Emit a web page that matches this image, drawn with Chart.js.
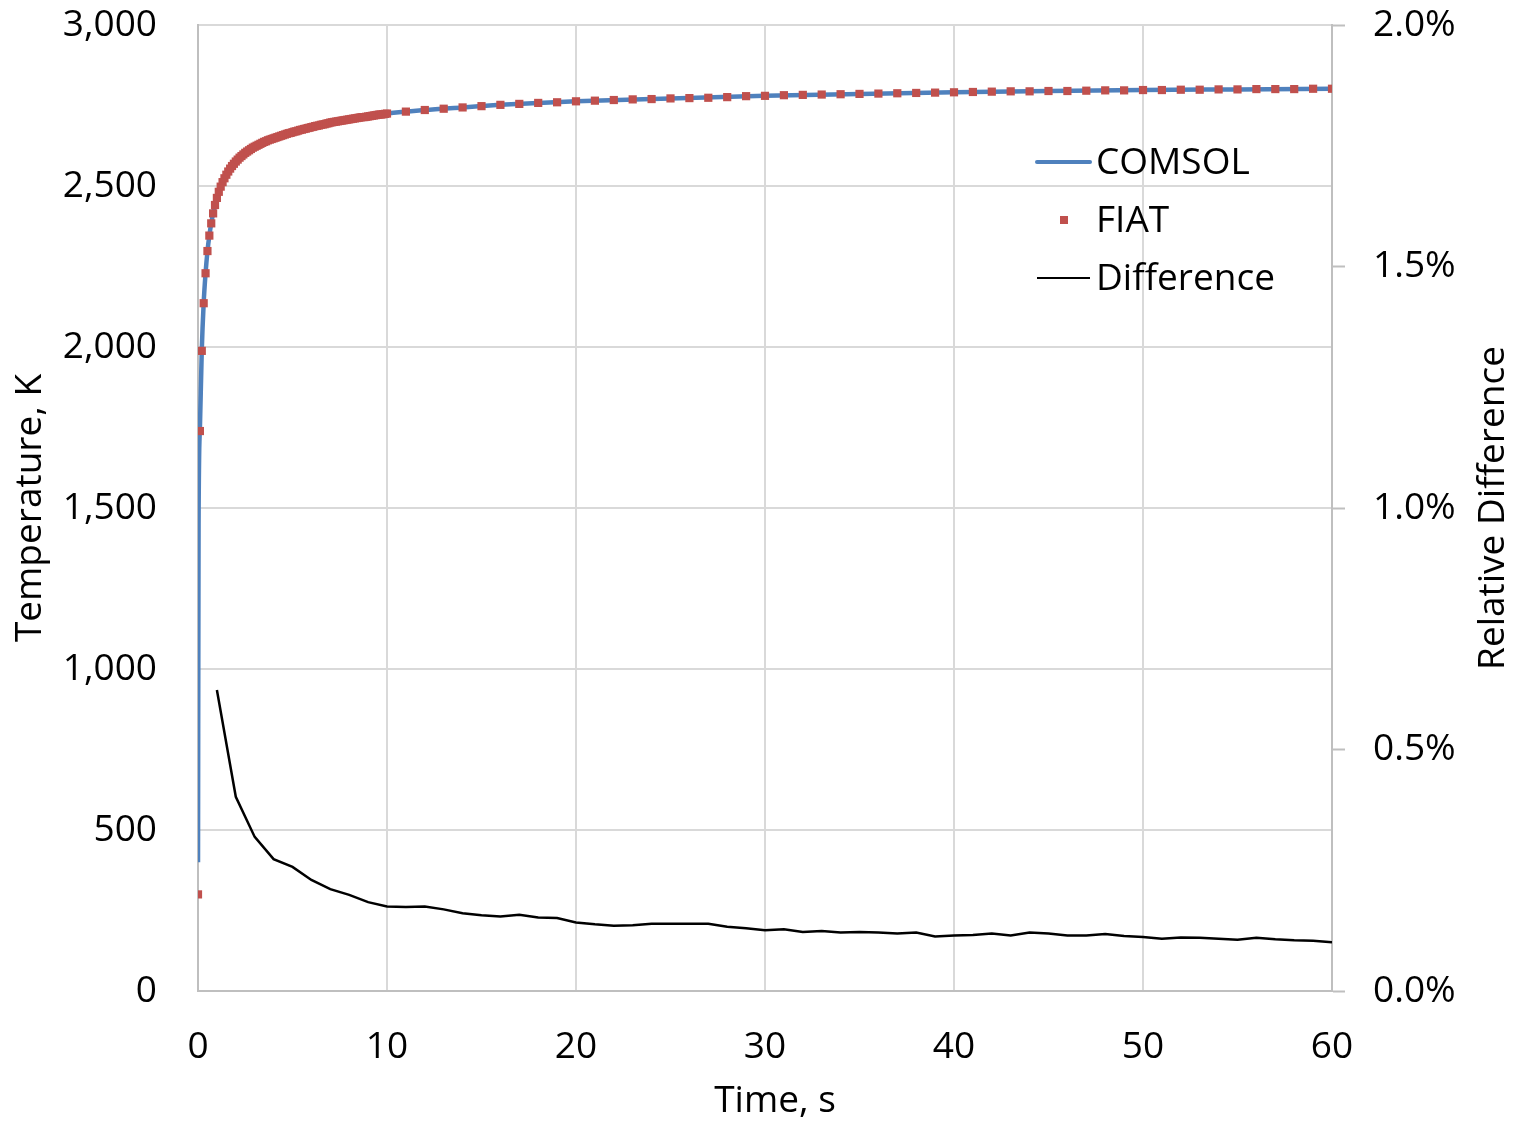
<!DOCTYPE html>
<html>
<head>
<meta charset="utf-8">
<script src="https://cdn.jsdelivr.net/npm/chart.js@4.4.1/dist/chart.umd.min.js"></script>
<style>
  html, body { margin: 0; padding: 0; background: #ffffff; }
  #wrap { width: 1519px; height: 1123px; position: relative; }
</style>
</head>
<body>
<div id="wrap"><canvas id="c" width="1519" height="1123"></canvas></div>
<script>
// ---- Data ----
const seriesNames = ["COMSOL", "FIAT", "Difference"];

const xTicks = [0, 10, 20, 30, 40, 50, 60];
const yTicksLeft = [0, 500, 1000, 1500, 2000, 2500, 3000];
const yTicksRight = [0.0, 0.5, 1.0, 1.5, 2.0];

// COMSOL temperature (K) vs time (s)
const comsolTime = [0, 0.03, 0.1, 0.2, 0.3, 0.4, 0.5, 0.6, 0.7, 0.8, 0.9, 1.0, 1.2, 1.4, 1.6, 1.8, 2.0, 2.5, 3, 3.5, 4, 5, 6, 7, 8, 9, 10, 12, 14, 16, 18, 20, 25, 30, 35, 40, 45, 50, 55, 60];
const comsolTemp = [400, 1450, 1745, 1990, 2136, 2229, 2297, 2346, 2384, 2415, 2441, 2463, 2498, 2524, 2545, 2562, 2576, 2603, 2622, 2637, 2648, 2667, 2683, 2697, 2707, 2716, 2725, 2736, 2744, 2752, 2758, 2763, 2772, 2780, 2786, 2791, 2795, 2798, 2800, 2802];

// FIAT temperature (K) vs time (s)
const fiatTime = [
  0, 0.1, 0.2, 0.3, 0.4, 0.5, 0.6, 0.7, 0.8, 0.9,
  1.0, 1.1, 1.2, 1.3, 1.4, 1.5, 1.6, 1.7, 1.8, 1.9,
  2.0, 2.1, 2.2, 2.3, 2.4, 2.5, 2.6, 2.7, 2.8, 2.9,
  3.0, 3.1, 3.2, 3.3, 3.4, 3.5, 3.6, 3.7, 3.8, 3.9,
  4.0, 4.1, 4.2, 4.3, 4.4, 4.5, 4.6, 4.7, 4.8, 4.9,
  5.0, 5.1, 5.2, 5.3, 5.4, 5.5, 5.6, 5.7, 5.8, 5.9,
  6.0, 6.1, 6.2, 6.3, 6.4, 6.5, 6.6, 6.7, 6.8, 6.9,
  7.0, 7.1, 7.2, 7.3, 7.4, 7.5, 7.6, 7.7, 7.8, 7.9,
  8.0, 8.1, 8.2, 8.3, 8.4, 8.5, 8.6, 8.7, 8.8, 8.9,
  9.0, 9.1, 9.2, 9.3, 9.4, 9.5, 9.6, 9.7, 9.8, 9.9,
  10,
  11, 12, 13, 14, 15, 16, 17, 18, 19, 20,
  21, 22, 23, 24, 25, 26, 27, 28, 29, 30,
  31, 32, 33, 34, 35, 36, 37, 38, 39, 40,
  41, 42, 43, 44, 45, 46, 47, 48, 49, 50,
  51, 52, 53, 54, 55, 56, 57, 58, 59, 60
];
const fiatTemp = [
  300, 1739, 1988, 2136, 2229, 2298, 2346, 2384, 2415, 2441,
  2463, 2482, 2498, 2512, 2524, 2535, 2545, 2554, 2562, 2569,
  2576, 2582, 2588, 2593, 2598, 2603, 2607, 2611, 2615, 2619,
  2622, 2625, 2628, 2631, 2634, 2637, 2639, 2642, 2644, 2646,
  2648, 2650, 2652, 2654, 2656, 2658, 2660, 2662, 2664, 2665,
  2667, 2669, 2670, 2672, 2674, 2675, 2677, 2678, 2680, 2681,
  2683, 2684, 2686, 2687, 2688, 2690, 2691, 2692, 2694, 2695,
  2697, 2698, 2699, 2700, 2701, 2702, 2703, 2704, 2705, 2706,
  2707, 2708, 2709, 2710, 2711, 2712, 2713, 2714, 2714, 2715,
  2716, 2717, 2718, 2719, 2720, 2721, 2722, 2722, 2723, 2724,
  2725,
  2731, 2736, 2740, 2744, 2748, 2752, 2755, 2758, 2760, 2763,
  2765, 2767, 2769, 2770, 2772, 2773, 2774, 2776, 2779, 2780,
  2782, 2783, 2784, 2785, 2786, 2787, 2788, 2789, 2790, 2791,
  2792, 2793, 2794, 2794, 2795, 2795, 2796, 2797, 2797, 2798,
  2798, 2799, 2799, 2800, 2800, 2801, 2801, 2801, 2802, 2802
];

// Relative difference (%) vs time (s)
const diffTime = [1, 2, 3, 4, 5, 6, 7, 8, 9, 10,
  11, 12, 13, 14, 15, 16, 17, 18, 19, 20,
  21, 22, 23, 24, 25, 26, 27, 28, 29, 30,
  31, 32, 33, 34, 35, 36, 37, 38, 39, 40,
  41, 42, 43, 44, 45, 46, 47, 48, 49, 50,
  51, 52, 53, 54, 55, 56, 57, 58, 59, 60];
const diffPct = [0.623, 0.402, 0.319, 0.273, 0.257, 0.230, 0.211, 0.199, 0.184, 0.175,
  0.174, 0.175, 0.169, 0.161, 0.157, 0.154, 0.158, 0.152, 0.151, 0.142,
  0.138, 0.135, 0.136, 0.139, 0.139, 0.139, 0.139, 0.133, 0.130, 0.126,
  0.128, 0.122, 0.124, 0.121, 0.122, 0.121, 0.119, 0.121, 0.113, 0.115,
  0.116, 0.119, 0.115, 0.121, 0.119, 0.115, 0.115, 0.118, 0.114, 0.112,
  0.108, 0.111, 0.110, 0.108, 0.106, 0.110, 0.107, 0.105, 0.104, 0.101];

const axisTitles = { x: "Time, s", yLeft: "Temperature, K", yRight: "Relative Difference" };

// ---- Styling ----
const FONT = "'Open Sans', 'Noto Sans', sans-serif";
const FSIZE = 37;
const COLORS = { comsol: "#4F81BD", fiat: "#C0504D", diff: "#000000", grid: "#D9D9D9", axis: "#BFBFBF" };

const toXY = (xs, ys) => xs.map((x, i) => ({ x: x, y: ys[i] }));

function fixVertical(width) {
  return (s) => { s.width = width; s.paddingTop = 0; s.paddingBottom = 0; };
}

const titlesAndLegend = {
  id: "titlesAndLegend",
  afterDraw(chart) {
    const ctx = chart.ctx;
    const ca = chart.chartArea;
    ctx.save();
    ctx.fillStyle = "#000";
    ctx.font = FSIZE + "px " + FONT;
    ctx.textAlign = "center";
    ctx.textBaseline = "middle";
    // x title
    ctx.fillText(axisTitles.x, 775, 1101);
    // left title
    ctx.save();
    ctx.translate(30, (ca.top + ca.bottom) / 2);
    ctx.rotate(-Math.PI / 2);
    ctx.fillText(axisTitles.yLeft, 0, 0);
    ctx.restore();
    // right title
    ctx.save();
    ctx.translate(1493, (ca.top + ca.bottom) / 2);
    ctx.rotate(-Math.PI / 2);
    ctx.fillText(axisTitles.yRight, 0, 0);
    ctx.restore();

    // legend
    const lx1 = 1037, lx2 = 1090, tx = 1096;
    const rows = [163, 221, 279];
    ctx.textAlign = "left";
    ctx.strokeStyle = COLORS.comsol;
    ctx.lineWidth = 4;
    ctx.lineCap = "round";
    ctx.beginPath(); ctx.moveTo(lx1, 162); ctx.lineTo(lx2, 162); ctx.stroke();
    ctx.fillText(seriesNames[0], tx, rows[0]);
    ctx.fillStyle = COLORS.fiat;
    ctx.fillRect(1060, 216, 8, 8);
    ctx.fillStyle = "#000";
    ctx.fillText(seriesNames[1], tx, rows[1]);
    ctx.strokeStyle = COLORS.diff;
    ctx.lineWidth = 2;
    ctx.lineCap = "butt";
    ctx.beginPath(); ctx.moveTo(lx1, 278); ctx.lineTo(lx2, 278); ctx.stroke();
    ctx.fillText(seriesNames[2], tx, rows[2]);
    ctx.restore();
  }
};

new Chart(document.getElementById("c"), {
  type: "line",
  data: {
    datasets: [
      {
        label: seriesNames[1],
        data: toXY(fiatTime, fiatTemp),
        yAxisID: "y",
        showLine: false,
        pointStyle: "rect",
        pointRadius: 5.8,
        pointBorderWidth: 0,
        pointBackgroundColor: COLORS.fiat,
        pointBorderColor: COLORS.fiat,
        order: 0
      },
      {
        label: seriesNames[0],
        data: toXY(comsolTime, comsolTemp),
        yAxisID: "y",
        borderColor: COLORS.comsol,
        borderWidth: 4.5,
        pointRadius: 0,
        cubicInterpolationMode: "monotone",
        fill: false,
        order: 1
      },
      {
        label: seriesNames[2],
        data: toXY(diffTime, diffPct),
        yAxisID: "y2",
        borderColor: COLORS.diff,
        borderWidth: 2.5,
        pointRadius: 0,
        tension: 0,
        fill: false,
        order: 2
      }
    ]
  },
  options: {
    responsive: false,
    animation: false,
    events: [],
    layout: { padding: { top: 25, left: 0, right: 0, bottom: 0 } },
    plugins: { legend: { display: false }, tooltip: { enabled: false }, title: { display: false } },
    scales: {
      x: {
        type: "linear",
        position: "bottom",
        min: 0, max: 60,
        afterBuildTicks: (s) => { s.ticks = xTicks.map(v => ({ value: v })); },
        afterFit: (s) => { s.height = 132; s.paddingLeft = 0; s.paddingRight = 0; },
        grid: { color: COLORS.grid, lineWidth: 2, drawTicks: false },
        border: { color: COLORS.axis, width: 2 },
        ticks: { color: "#000", padding: 34, maxRotation: 0, font: { family: FONT, size: FSIZE } }
      },
      y: {
        type: "linear",
        position: "left",
        min: 0, max: 3000,
        afterBuildTicks: (s) => { s.ticks = yTicksLeft.map(v => ({ value: v })); },
        afterFit: fixVertical(198),
        grid: { color: COLORS.grid, lineWidth: 2, drawTicks: false },
        border: { color: COLORS.axis, width: 2 },
        ticks: {
          color: "#000", padding: 41, font: { family: FONT, size: FSIZE },
          callback: (v) => v.toLocaleString("en-US")
        }
      },
      y2: {
        type: "linear",
        position: "right",
        min: 0, max: 2.0,
        afterBuildTicks: (s) => { s.ticks = yTicksRight.map(v => ({ value: v })); },
        afterFit: fixVertical(187),
        grid: { drawOnChartArea: false, drawTicks: true, tickLength: 13, tickColor: COLORS.axis, tickWidth: 2 },
        border: { color: COLORS.axis, width: 2 },
        ticks: {
          color: "#000", padding: 28, font: { family: FONT, size: FSIZE },
          callback: (v) => v.toFixed(1) + "%"
        }
      }
    }
  },
  plugins: [titlesAndLegend]
});
</script>
</body>
</html>
